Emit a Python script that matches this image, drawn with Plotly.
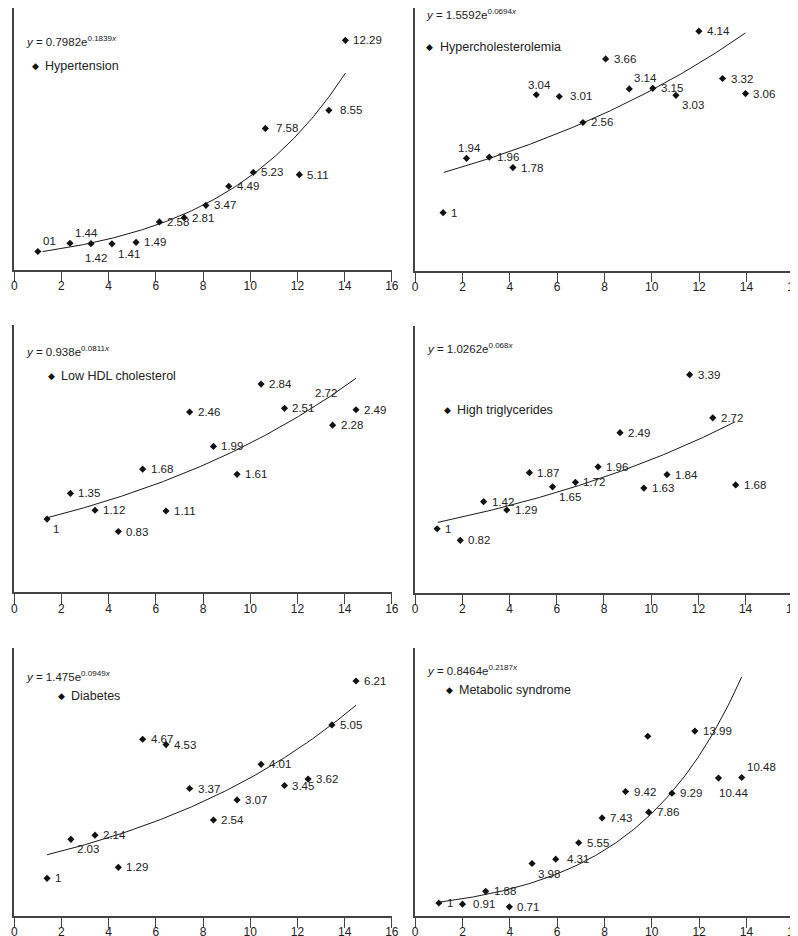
import numpy as np
import plotly.graph_objects as go

W, H = 798, 936

# ---------------- data ----------------
names = ["Hypertension", "Hypercholesterolemia", "Low HDL cholesterol",
         "High triglycerides", "Diabetes", "Metabolic syndrome"]

# fitted trend equations y = a * e^(b x)
trend_a = [0.7982, 1.5592, 0.938, 1.0262, 1.475, 0.8464]
trend_b = [0.1839, 0.0694, 0.0811, 0.068, 0.0949, 0.2187]

htn_x = [1.0, 2.36, 3.25, 4.14, 5.16, 6.15, 7.2, 8.12, 9.09, 10.13, 10.64, 12.08, 13.33, 14.03]
htn_y = [1, 1.44, 1.42, 1.41, 1.49, 2.58, 2.81, 3.47, 4.49, 5.23, 7.58, 5.11, 8.55, 12.29]
htn_lab = ["01", "1.44", "1.42", "1.41", "1.49", "2.58", "2.81", "3.47", "4.49", "5.23",
           "7.58", "5.11", "8.55", "12.29"]

hch_x = [1.18, 2.17, 3.13, 4.13, 5.12, 6.09, 7.09, 8.05, 9.05, 10.04, 11.02, 11.99, 12.99, 13.96]
hch_y = [1, 1.94, 1.96, 1.78, 3.04, 3.01, 2.56, 3.66, 3.14, 3.15, 3.03, 4.14, 3.32, 3.06]
hch_lab = ["1", "1.94", "1.96", "1.78", "3.04", "3.01", "2.56", "3.66", "3.14", "3.15",
           "3.03", "4.14", "3.32", "3.06"]

hdl_x = [1.39, 2.38, 3.42, 4.41, 5.44, 6.43, 7.43, 8.44, 9.44, 10.46, 11.45, 13.49, 14.48]
hdl_y = [1, 1.35, 1.12, 0.83, 1.68, 1.11, 2.46, 1.99, 1.61, 2.84, 2.51, 2.28, 2.49]
hdl_lab = ["1", "1.35", "1.12", "0.83", "1.68", "1.11", "2.46", "1.99", "1.61", "2.84",
           "2.51", "2.28", "2.49"]
hdl_extra_x = [13.22]
hdl_extra_y = [2.72]
hdl_extra_lab = ["2.72"]

tg_x = [0.93, 1.91, 2.90, 3.88, 4.84, 5.82, 6.79, 7.75, 8.68, 9.69, 10.67, 11.63, 12.61, 13.58]
tg_y = [1, 0.82, 1.42, 1.29, 1.87, 1.65, 1.72, 1.96, 2.49, 1.63, 1.84, 3.39, 2.72, 1.68]
tg_lab = ["1", "0.82", "1.42", "1.29", "1.87", "1.65", "1.72", "1.96", "2.49", "1.63",
          "1.84", "3.39", "2.72", "1.68"]

dm_x = [1.39, 2.40, 3.42, 4.41, 5.44, 6.43, 7.43, 8.44, 9.44, 10.46, 11.45, 12.45, 13.46, 14.48]
dm_y = [1, 2.03, 2.14, 1.29, 4.67, 4.53, 3.37, 2.54, 3.07, 4.01, 3.45, 3.62, 5.05, 6.21]
dm_lab = ["1", "2.03", "2.14", "1.29", "4.67", "4.53", "3.37", "2.54", "3.07", "4.01",
          "3.45", "3.62", "5.05", "6.21"]

ms_x = [1.0, 2.0, 2.98, 3.98, 4.94, 5.94, 6.91, 7.9, 8.89, 9.83, 9.87, 10.85, 11.82, 12.82, 13.8]
ms_y = [1, 0.91, 1.88, 0.71, 3.98, 4.31, 5.55, 7.43, 9.42, 13.6, 7.86, 9.29, 13.99, 10.44, 10.48]
ms_lab = ["1", "0.91", "1.88", "0.71", "3.98", "4.31", "5.55", "7.43", "9.42", "", "7.86",
          "9.29", "13.99", "10.44", "10.48"]

x_ticks = [0, 2, 4, 6, 8, 10, 12, 14, 16]

# ---------------- layout / style ----------------
# label placement codes
htn_pos = ['tr', 'tr', 'b', 'br', 'r', 'r', 'r', 'r', 'r', 'r', 'R', 'r', 'R', 'r']
hch_pos = ['r', 't', 'r', 'r', 't', 'R', 'r', 'r', 'tr', 'r', 'br', 'r', 'r', 'r']
hdl_pos = ['br'] + ['r'] * 12
tg_pos = ['r', 'r', 'r', 'r', 'r', 'br', 'r', 'r', 'r', 'r', 'r', 'r', 'r', 'r']
dm_pos = ['r', 'br'] + ['r'] * 12
ms_pos = ['r', 'R', 'r', 'r', 'br', 'R', 'r', 'r', 'r', 'r', 'r', 'r', 'r', 'bb', 'tr']

POS = {  # xanchor, xshift, yshift(px, +down)
    'r': ('left', 6, 0), 'R': ('left', 9, 0),
    'tr': ('left', 3, -10.5), 'br': ('left', 4, 10),
    't': ('center', 3, -10), 'b': ('center', 5, 14), 'bb': ('left', -2, 15),
}

# trend drawing: index range -> x range on plot
trend_t = [(1.2, 14.03), (1.21, 13.96), (1, 14), (1, 14), (1, 14), (1, 14)]
trend_xr = [(1.2, 14.03), (1.21, 13.96), (1.39, 14.48), (0.96, 13.56), (1.39, 14.48), (1.0, 13.8)]

# panel pixel boxes: x0, x1, ytop, ybottom ; y-range top
boxes = [(3.3, 385.7, 0, 262.2), (409.3, 792.7, 0, 262.5),
         (3.3, 385.7, 316.7, 584.4), (409.3, 791.7, 318.3, 585.2),
         (3.3, 385.7, 640, 908.2), (409.3, 792.7, 640, 908.2)]
y_top = [14.02, 4.54, 3.65, 4.14, 7.08, 20.27]

eq_pos = [(13.3, 33.3), (418.3, 6), (13.3, 343.3), (419.3, 340), (13.3, 667.7), (419.3, 661.7)]
leg_pos = [(24.7, 58.3, 32.7), (424.3, 39, 432.7), (41.3, 368.3, 48.7),
           (442.3, 402.3, 449.3), (51, 687.7, 58.7), (444, 681.7, 451.7)]

FONT = "Liberation Sans, Arial, sans-serif"
INK = "#1a1a1a"
AX = "#444444"

panels = [
    (htn_x, htn_y, htn_lab, htn_pos),
    (hch_x, hch_y, hch_lab, hch_pos),
    (hdl_x, hdl_y, hdl_lab, hdl_pos),
    (tg_x, tg_y, tg_lab, tg_pos),
    (dm_x, dm_y, dm_lab, dm_pos),
    (ms_x, ms_y, ms_lab, ms_pos),
]


def fx(px):
    return px / W


def fy(py):
    return 1 - py / H


fig = go.Figure()
annotations = []
layout_axes = {}

for i, (xs, ys, labs, poss) in enumerate(panels):
    n = i + 1
    xref = 'x' if n == 1 else f'x{n}'
    yref = 'y' if n == 1 else f'y{n}'
    x0, x1, yt, yb = boxes[i]

    # trend line
    t0, t1 = trend_t[i]
    xa, xb = trend_xr[i]
    t = np.linspace(t0, t1, 200)
    ty = trend_a[i] * np.exp(trend_b[i] * t)
    tx = xa + (t - t0) * (xb - xa) / (t1 - t0)
    fig.add_trace(go.Scatter(x=tx, y=ty, mode='lines', line=dict(color=INK, width=1),
                             xaxis=xref, yaxis=yref, showlegend=False, hoverinfo='skip'))
    # points
    fig.add_trace(go.Scatter(x=xs, y=ys, mode='markers', name=names[i],
                             marker=dict(symbol='diamond', size=5.5, color='#111111',
                                         line=dict(width=0)),
                             xaxis=xref, yaxis=yref, showlegend=False))
    # data labels
    for xv, yv, lab, p in zip(xs, ys, labs, poss):
        if not lab:
            continue
        xan, dx, dy = POS[p]
        annotations.append(dict(x=xv, y=yv, xref=xref, yref=yref, text=lab, showarrow=False,
                                xanchor=xan, yanchor='middle', xshift=dx, yshift=-dy,
                                font=dict(family=FONT, size=11.5, color='#222222')))
    if n == 3:
        for xv, yv, lab in zip(hdl_extra_x, hdl_extra_y, hdl_extra_lab):
            annotations.append(dict(x=xv, y=yv, xref=xref, yref=yref, text=lab,
                                    showarrow=False, xanchor='center', yanchor='middle',
                                    font=dict(family=FONT, size=11.5, color='#222222')))

    # equation
    ex, ey = eq_pos[i]
    eq = f"<i>y</i> = {trend_a[i]}e<sup>{trend_b[i]}<i>x</i></sup>"
    annotations.append(dict(x=fx(ex), y=fy(ey), xref='paper', yref='paper', text=eq,
                            showarrow=False, xanchor='left', yanchor='middle',
                            font=dict(family=FONT, size=11.5, color='#222222')))
    # legend entry
    mx, my, tx0 = leg_pos[i]
    annotations.append(dict(x=fx(mx), y=fy(my), xref='paper', yref='paper', text='◆',
                            showarrow=False, xanchor='center', yanchor='middle',
                            font=dict(family='DejaVu Sans', size=9, color='#111111')))
    annotations.append(dict(x=fx(tx0), y=fy(my), xref='paper', yref='paper', text=names[i],
                            showarrow=False, xanchor='left', yanchor='middle',
                            font=dict(family=FONT, size=12.5, color='#222222')))

    xk = 'xaxis' if n == 1 else f'xaxis{n}'
    yk = 'yaxis' if n == 1 else f'yaxis{n}'
    layout_axes[xk] = dict(domain=[fx(x0), fx(x1)], range=[0, 16], tickvals=x_ticks,
                           ticktext=[str(v) for v in x_ticks],
                           ticks='outside', ticklen=10, tickwidth=1.3, tickcolor=AX,
                           ticklabelstandoff=-6,
                           showline=True, linecolor=AX, linewidth=1.5, showgrid=False,
                           zeroline=False, anchor=yref,
                           tickfont=dict(family=FONT, size=12, color='#222222'))
    layout_axes[yk] = dict(domain=[fy(yb), fy(yt)], range=[0, y_top[i]],
                           showticklabels=False, ticks='', showline=True, linecolor=AX,
                           linewidth=1.5, showgrid=False, zeroline=False, anchor=xref)

fig.update_layout(width=W, height=H, autosize=False,
                  margin=dict(l=0, r=0, t=0, b=0),
                  paper_bgcolor='white', plot_bgcolor='white',
                  annotations=annotations, showlegend=False, **layout_axes)

fig.write_html("out.html")
